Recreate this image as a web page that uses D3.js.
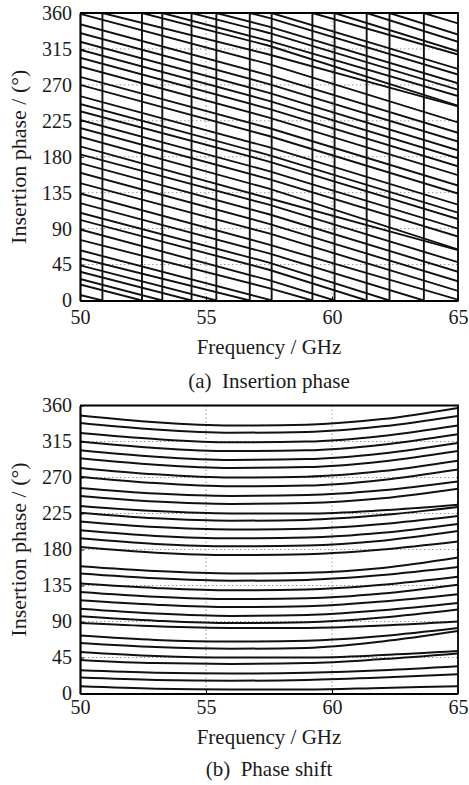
<!DOCTYPE html>
<html>
<head>
<meta charset="utf-8">
<script src="https://cdn.jsdelivr.net/npm/d3@7"></script>
<style>
  body { margin: 0; background: #fff; }
  svg text { font-family: "Liberation Serif", "Times New Roman", serif; fill: #1a1a1a; }
</style>
</head>
<body>
<svg id="chart"></svg>
<script>
const width = 469, height = 785;

// x ticks and y ticks shared by both panels
const freqTicks = [50, 55, 60, 65];
const phaseTicks = [0, 45, 90, 135, 180, 225, 270, 315, 360];

// (a) insertion phase, unwrapped degrees, one entry per state, read at 50 / 57.5 / 65 GHz
const insFreq = [50, 57.5, 65];
const ins50 = [7, 20, 27, 36, 44, 53, 63, 76, 89, 101, 110, 122, 134, 147, 160, 172, 183, 193, 205, 216, 226, 237, 246, 256, 270, 280, 293, 304, 314, 324, 335, 346, 359];
const ins575 = [-52, -41, -35, -25, -17, -6, 1, 15.5, 25.5, 38.5, 47.5, 59, 70, 84, 96, 108, 120, 128, 140, 152, 162, 174, 182, 192, 206, 216, 229, 240, 250, 260, 271, 282, 296];
const ins65 = [-117, -116, -104, -96, -88, -77, -70, -52, -48, -36, -27, -13, 1, 12, 24, 36, 48, 63, 64, 80, 90, 102, 110, 120, 134, 144, 157, 168, 178, 188, 199, 210, 223];

// (b) phase shift, degrees, one entry per state
const shiftFreq = [50, 53, 56, 59, 62, 65];
const shift50 = [9, 20, 29, 42, 52, 63, 72.5, 88, 96.5, 106, 116.5, 127, 137.5, 150, 159, 183, 194, 204, 215, 226, 234.5, 247, 257, 271, 282, 294, 304, 315, 325.5, 338, 347.5];
const shift53 = [6, 17, 26, 38, 47, 58, 67, 84, 91, 100, 111, 121, 132, 144, 153, 176, 187, 197, 208, 219, 228, 240, 250, 263, 274, 286, 296, 307, 318, 330, 339];
const shift56 = [5, 16, 25, 37, 45, 56, 65, 82, 88, 97, 108, 118, 129, 141, 150, 173, 184, 194, 205, 216, 225, 237, 247, 259, 270, 282, 292, 303, 314, 326, 335];
const shift59 = [5, 17, 26, 38, 45, 57, 66, 82, 89, 98, 109, 119, 130, 142, 151, 174, 185, 195, 206, 217, 225, 238, 248, 260, 271, 283, 293, 304, 315, 327, 336];
const shift62 = [7, 20, 29, 43, 48, 65, 72, 85, 95, 104, 115, 125, 136, 148, 157, 180, 191, 201, 212, 223, 229, 244, 254, 267, 278, 290, 300, 311, 322, 334, 343];
const shift65 = [9, 24, 34, 50, 53, 78, 82, 90, 105, 113, 124, 136, 146, 158, 170, 190, 203, 212, 222, 233, 236, 256, 265, 280, 291, 303, 313, 324, 335, 347, 357];

const svg = d3.select('#chart')
  .attr('width', width)
  .attr('height', height)
  .attr('viewBox', [0, 0, width, height]);

svg.append('rect').attr('width', width).attr('height', height).attr('fill', '#fff');

const marginLeft = 80, plotRight = 458;

/** wrap an unwrapped phase trace into 0..360, adding the jump where it crosses a multiple of 360 */
function wrapTrace(fs, ps) {
  const pts = [];
  for (let i = 0; i < fs.length; i++) {
    if (i > 0) {
      const a = ps[i - 1], b = ps[i];
      let ka = Math.floor(a / 360);
      const kb = Math.floor(b / 360);
      while (ka > kb) {
        const c = ka * 360;
        const t = (a - c) / (a - b);
        const fc = fs[i - 1] + t * (fs[i] - fs[i - 1]);
        pts.push([fc, 0], [fc, 360]);
        ka--;
      }
    }
    pts.push([fs[i], ((ps[i] % 360) + 360) % 360]);
  }
  return pts;
}

function drawPanel(opts) {
  const { top, bottom, id, traces, curve, caption, labelPad, titleY, captionY, lineW } = opts;

  const x = d3.scaleLinear().domain([50, 65]).range([marginLeft, plotRight]);
  const y = d3.scaleLinear().domain([0, 360]).range([bottom, top]);

  const g = svg.append('g');

  g.append('clipPath').attr('id', id)
    .append('rect')
    .attr('x', marginLeft).attr('y', top)
    .attr('width', plotRight - marginLeft).attr('height', bottom - top);

  // dotted grid
  g.append('g').selectAll('line.gy')
    .data(phaseTicks.slice(1, -1))
    .join('line')
    .attr('x1', marginLeft).attr('x2', plotRight)
    .attr('y1', d => y(d)).attr('y2', d => y(d))
    .attr('stroke', '#9a9a9a').attr('stroke-width', 1)
    .attr('stroke-dasharray', '1.5,2.5');
  g.append('g').selectAll('line.gx')
    .data(freqTicks.slice(1, -1))
    .join('line')
    .attr('x1', d => x(d)).attr('x2', d => x(d))
    .attr('y1', top).attr('y2', bottom)
    .attr('stroke', '#9a9a9a').attr('stroke-width', 1)
    .attr('stroke-dasharray', '1.5,2.5');

  const line = d3.line()
    .x(d => x(d[0]))
    .y(d => y(d[1]))
    .curve(curve);

  g.append('g')
    .attr('clip-path', `url(#${id})`)
    .selectAll('path')
    .data(traces)
    .join('path')
    .attr('d', line)
    .attr('fill', 'none')
    .attr('stroke', '#111')
    .attr('stroke-width', lineW);

  // axes with inward ticks
  g.append('g')
    .attr('transform', `translate(${marginLeft},0)`)
    .call(d3.axisLeft(y).tickValues(phaseTicks).tickSizeInner(-4).tickSizeOuter(0).tickPadding(8))
    .call(a => a.select('.domain').attr('stroke-width', 2.2))
    .call(a => a.selectAll('text').style('font-size', '20px'));

  g.append('g')
    .attr('transform', `translate(0,${bottom})`)
    .call(d3.axisBottom(x).tickValues(freqTicks).tickSizeInner(-4).tickSizeOuter(0).tickPadding(labelPad))
    .call(a => a.select('.domain').attr('stroke-width', 2.2))
    .call(a => a.selectAll('text').style('font-size', '20px'));

  // box top and right
  g.append('path')
    .attr('d', `M${marginLeft},${top}H${plotRight}V${bottom}`)
    .attr('fill', 'none').attr('stroke', '#000').attr('stroke-width', 1.8);

  const cx = (marginLeft + plotRight) / 2;
  g.append('text')
    .attr('x', cx).attr('y', titleY)
    .attr('text-anchor', 'middle')
    .style('font-size', '21px')
    .text('Frequency / GHz');

  g.append('text')
    .attr('x', cx).attr('y', captionY)
    .attr('text-anchor', 'middle')
    .style('font-size', '21px')
    .attr('xml:space', 'preserve')
    .text(caption);

  g.append('text')
    .attr('transform', `translate(26,${(top + bottom) / 2}) rotate(-90)`)
    .attr('text-anchor', 'middle')
    .style('font-size', '22px')
    .text('Insertion phase / (°)');
}

// build traces from the arrays
const insTraces = ins50.map((v, i) => wrapTrace(insFreq, [ins50[i], ins575[i], ins65[i]]));
const shiftTraces = shift50.map((v, i) =>
  shiftFreq.map((f, j) => [f, [shift50, shift53, shift56, shift59, shift62, shift65][j][i]]));

drawPanel({
  top: 13, bottom: 300.5, id: 'clipA', traces: insTraces, curve: d3.curveLinear,
  caption: '(a)  Insertion phase', labelPad: 9, titleY: 354, captionY: 388, lineW: 1.9
});

drawPanel({
  top: 405.5, bottom: 693.5, id: 'clipB', traces: shiftTraces, curve: d3.curveMonotoneX,
  caption: '(b)  Phase shift', labelPad: 6, titleY: 744, captionY: 776, lineW: 2
});
</script>
</body>
</html>
